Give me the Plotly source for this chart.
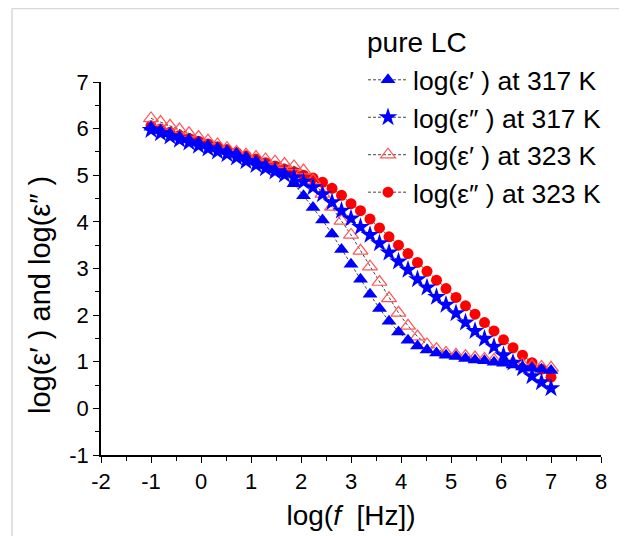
import plotly.graph_objects as go

log_f = [-1.00, -0.81, -0.62, -0.43, -0.24, -0.05, 0.14, 0.33, 0.52, 0.71,
         0.90, 1.10, 1.29, 1.48, 1.67, 1.86, 2.05, 2.24, 2.43, 2.62,
         2.81, 3.00, 3.19, 3.38, 3.57, 3.76, 3.95, 4.14, 4.33, 4.52,
         4.71, 4.90, 5.10, 5.29, 5.48, 5.67, 5.86, 6.05, 6.24, 6.43,
         6.62, 6.81, 7.00]

eps1_317 = [6.03, 5.96, 5.89, 5.82, 5.76, 5.70, 5.64, 5.58, 5.52, 5.46,
            5.38, 5.30, 5.21, 5.12, 5.03, 4.82, 4.56, 4.31, 4.04, 3.74,
            3.41, 3.09, 2.77, 2.45, 2.14, 1.87, 1.64, 1.46, 1.34, 1.25,
            1.19, 1.14, 1.11, 1.07, 1.04, 1.02, 0.99, 0.97, 0.93, 0.89,
            0.86, 0.84, 0.81]

eps2_317 = [5.97, 5.90, 5.83, 5.76, 5.70, 5.63, 5.57, 5.51, 5.45, 5.38,
            5.30, 5.22, 5.15, 5.08, 5.01, 4.95, 4.86, 4.74, 4.59, 4.42,
            4.24, 4.07, 3.89, 3.72, 3.54, 3.34, 3.15, 2.97, 2.77, 2.59,
            2.39, 2.22, 2.04, 1.84, 1.66, 1.49, 1.32, 1.14, 0.98, 0.86,
            0.69, 0.56, 0.43]

eps1_323 = [6.22, 6.14, 6.06, 5.98, 5.90, 5.82, 5.74, 5.66, 5.58, 5.50,
            5.44, 5.39, 5.34, 5.29, 5.24, 5.19, 5.10, 4.89, 4.60, 4.32,
            4.02, 3.72, 3.38, 3.04, 2.71, 2.36, 2.05, 1.77, 1.54, 1.37,
            1.27, 1.19, 1.15, 1.12, 1.09, 1.06, 1.04, 1.01, 0.98, 0.94,
            0.91, 0.89, 0.87]

eps2_323 = [6.06, 5.99, 5.92, 5.85, 5.79, 5.73, 5.67, 5.61, 5.55, 5.49,
            5.42, 5.35, 5.27, 5.20, 5.13, 5.07, 5.00, 4.94, 4.85, 4.72,
            4.57, 4.39, 4.24, 4.06, 3.87, 3.68, 3.50, 3.32, 3.13, 2.94,
            2.75, 2.57, 2.38, 2.20, 2.02, 1.84, 1.66, 1.47, 1.30, 1.14,
            0.98, 0.84, 0.67]

names = ["log(ε′ ) at 317 K", "log(ε″ ) at 317 K",
         "log(ε′ ) at 323 K", "log(ε″ ) at 323 K"]
legend_title = "pure LC"
y_title = "log(ε′ ) and log(ε″ )"
x_title = "log(<i>f</i>  [Hz])"

x_ticks = [-2, -1, 0, 1, 2, 3, 4, 5, 6, 7, 8]
y_ticks = [-1, 0, 1, 2, 3, 4, 5, 6, 7]

FONT = "Arial, Liberation Sans, sans-serif"
line_style = dict(color="#444444", width=1, dash="3px,2px")

fig = go.Figure()
# red drawn first (underneath), blue on top; legend order by rank
fig.add_trace(go.Scatter(x=log_f, y=eps2_323, mode="lines+markers", name=names[3],
                         legendrank=4, line=line_style,
                         marker=dict(symbol="circle", size=11, color="#ff0000",
                                     line=dict(width=0))))
fig.add_trace(go.Scatter(x=log_f, y=eps1_323, mode="lines+markers", name=names[2],
                         legendrank=3, line=line_style,
                         marker=dict(symbol="triangle-up-open", size=13, color="#ff5555",
                                     line=dict(width=1.2, color="#ff5555"))))
fig.add_trace(go.Scatter(x=log_f, y=eps2_317, mode="lines+markers", name=names[1],
                         legendrank=2, line=line_style,
                         marker=dict(symbol="star", size=14, color="#0000ff",
                                     line=dict(width=0))))
fig.add_trace(go.Scatter(x=log_f, y=eps1_317, mode="lines+markers", name=names[0],
                         legendrank=1, line=line_style,
                         marker=dict(symbol="triangle-up", size=13, color="#0000ff",
                                     line=dict(width=0))))

# the page body has an 8px margin; the figure is sized so the plot lands where the reference has it
fig.update_layout(
    width=619, height=528,
    margin=dict(l=93, r=26, t=74, b=81, autoexpand=False),
    paper_bgcolor="white", plot_bgcolor="white",
    font=dict(family=FONT, color="black"),
    showlegend=True,
    legend=dict(
        font=dict(size=26.5, family=FONT),
        x=0.524, y=0.855, xanchor="left", yanchor="middle",
        bgcolor="rgba(0,0,0,0)", tracegroupgap=0, itemwidth=40,
    ),
    xaxis=dict(
        range=[-2, 8], tickmode="array", tickvals=x_ticks,
        ticktext=[str(v) for v in x_ticks],
        ticks="outside", ticklen=6, tickwidth=1.2, tickcolor="black",
        showline=True, linecolor="black", linewidth=1.5, mirror=False,
        showgrid=False, zeroline=False, automargin=False,
        tickfont=dict(size=22, family=FONT),
        minor=dict(dtick=0.5, tick0=-2, ticks="outside", ticklen=4,
                   tickwidth=1.2, tickcolor="black", showgrid=False),
        title=dict(text=x_title, font=dict(size=28, family=FONT), standoff=12),
    ),
    yaxis=dict(
        range=[-1, 7], tickmode="array", tickvals=y_ticks,
        ticktext=[str(v) for v in y_ticks],
        ticks="outside", ticklen=6, tickwidth=1.2, tickcolor="black",
        showline=True, linecolor="black", linewidth=1.5, mirror=False,
        showgrid=False, zeroline=False, automargin=False,
        tickfont=dict(size=22, family=FONT),
        minor=dict(dtick=0.5, tick0=-1, ticks="outside", ticklen=4,
                   tickwidth=1.2, tickcolor="black", showgrid=False),
    ),
    annotations=[
        dict(text=legend_title, xref="paper", yref="paper", x=0.528, y=1.107,
             xanchor="left", yanchor="middle", showarrow=False,
             font=dict(size=28, family=FONT)),
        dict(text=y_title, xref="paper", yref="paper", x=-0.122, y=0.429,
             xanchor="center", yanchor="middle", textangle=-90, showarrow=False,
             font=dict(size=29, family=FONT)),
    ],
    shapes=[
        dict(type="line", xref="paper", yref="paper",
             x0=-0.178, x1=-0.178, y0=-0.3, y1=1.197,
             line=dict(color="#d8d8d8", width=1.5)),
        dict(type="line", xref="paper", yref="paper",
             x0=-0.178, x1=1.06, y0=1.197, y1=1.197,
             line=dict(color="#d8d8d8", width=1.5)),
    ],
)

fig.write_html("out.html")
